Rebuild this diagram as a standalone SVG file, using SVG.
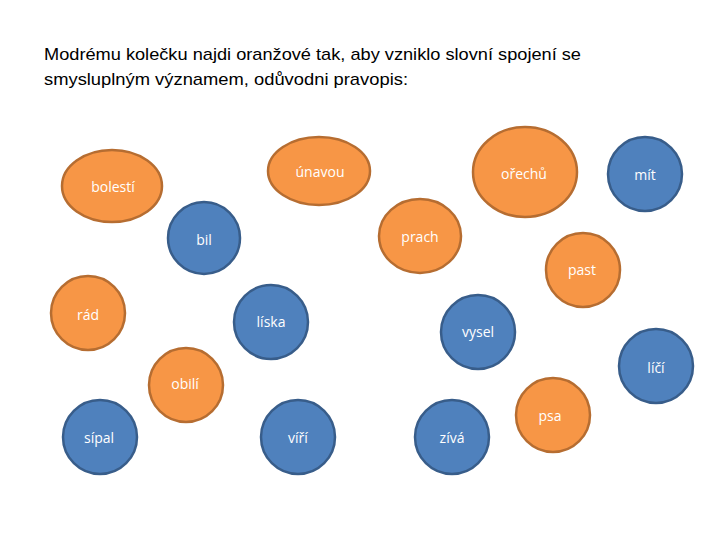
<svg xmlns="http://www.w3.org/2000/svg" width="720" height="540" viewBox="0 0 720 540">
<style>
.t{font-family:"Liberation Sans",Arial,sans-serif;font-size:17px;fill:#000}
.o{fill:#F79646;stroke:#B66D31;stroke-width:2.5}
.b{fill:#4F81BD;stroke:#385D8A;stroke-width:2.5}
.l{font-family:"Open Sans","Liberation Sans",sans-serif;font-size:14px;fill:#fff;text-anchor:middle}
</style>
<rect width="720" height="540" fill="#fff"/>
<text class="t" x="44" y="60" textLength="537" lengthAdjust="spacingAndGlyphs">Modrému kolečku najdi oranžové tak, aby vzniklo slovní spojení se</text>
<text class="t" x="44" y="85" textLength="364" lengthAdjust="spacingAndGlyphs">smysluplným významem, odůvodni pravopis:</text>
<g id="bolesti"><ellipse class="o" cx="112" cy="186" rx="50" ry="36"/><text class="l" x="113" y="192">bolestí</text></g>
<g id="unavou"><ellipse class="o" cx="319" cy="171" rx="51" ry="34"/><text class="l" x="320" y="177">únavou</text></g>
<g id="orechu"><ellipse class="o" cx="525" cy="172" rx="52" ry="45"/><text class="l" x="524" y="179">ořechů</text></g>
<g id="mit"><circle class="b" cx="645" cy="174" r="37"/><text class="l" x="645" y="180">mít</text></g>
<g id="bil"><circle class="b" cx="204" cy="238" r="36"/><text class="l" x="204" y="245">bil</text></g>
<g id="prach"><ellipse class="o" cx="420" cy="236" rx="41" ry="37"/><text class="l" x="420" y="242">prach</text></g>
<g id="past"><circle class="o" cx="583" cy="270" r="37"/><text class="l" x="582" y="275">past</text></g>
<g id="rad"><circle class="o" cx="88" cy="313" r="37"/><text class="l" x="88" y="320">rád</text></g>
<g id="liska"><circle class="b" cx="271" cy="322" r="37"/><text class="l" x="271" y="327">líska</text></g>
<g id="vysel"><circle class="b" cx="478" cy="332" r="37"/><text class="l" x="478" y="337">vysel</text></g>
<g id="lici"><circle class="b" cx="656" cy="366" r="37"/><text class="l" x="656" y="373">líčí</text></g>
<g id="obili"><circle class="o" cx="186" cy="385" r="37"/><text class="l" x="185" y="389">obilí</text></g>
<g id="psa"><circle class="o" cx="553" cy="415" r="37"/><text class="l" x="550" y="421">psa</text></g>
<g id="sipal"><circle class="b" cx="100" cy="437" r="37"/><text class="l" x="99" y="443">sípal</text></g>
<g id="viri"><circle class="b" cx="298" cy="437" r="37"/><text class="l" x="298" y="443">víří</text></g>
<g id="ziva"><circle class="b" cx="452" cy="437" r="37"/><text class="l" x="452" y="443">zívá</text></g>
<g id="connectors"></g>
</svg>
